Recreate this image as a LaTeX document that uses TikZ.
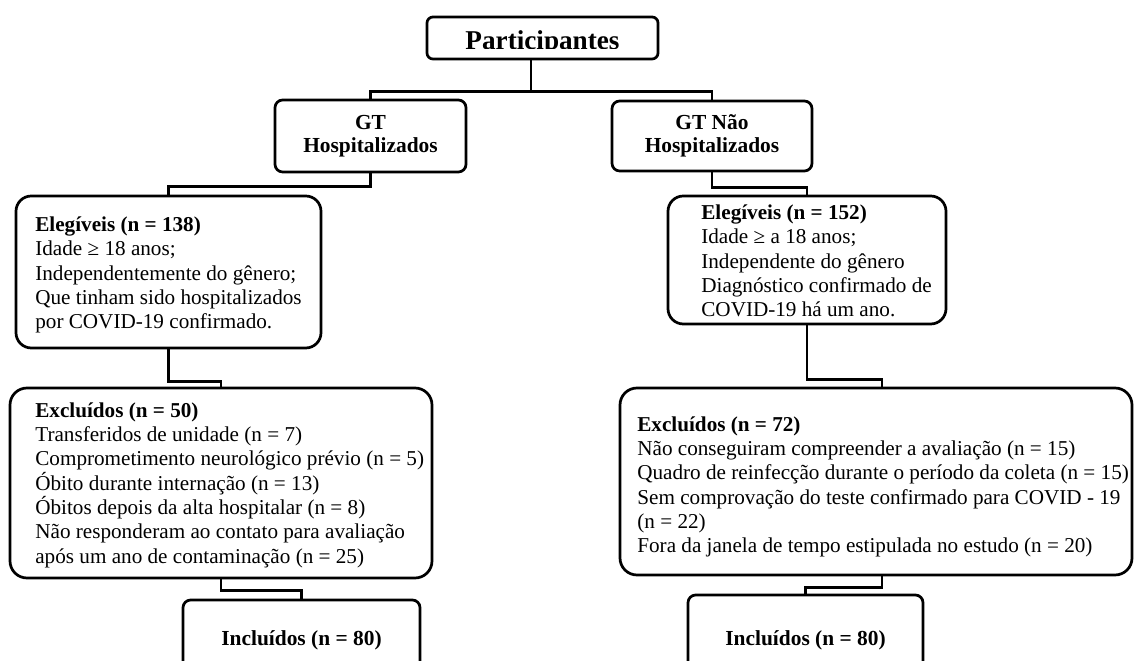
\documentclass[tikz,border=0pt]{standalone}
\usepackage{fontspec}
\setmainfont{Liberation Serif}
\newcommand{\pxu}{0.5882pt}
\begin{document}
\begin{tikzpicture}[x=0.5882pt,y=-0.5882pt,
  box/.style={draw, line width=1.6pt, rounded corners=#1, inner sep=0pt},
  conn/.style={draw, line width=1.6pt},
  body/.style={font=\fontsize{12.45}{14.3}\selectfont, align=left, inner sep=0pt, anchor=west},
  head/.style={font=\bfseries\fontsize{12.6}{13.6}\selectfont, align=center}]
\clip (0,0) rectangle (1134,661);
\useasboundingbox (0,0) rectangle (1134,661);

% boxes
\node[box=3.5pt, minimum width=231*\pxu, minimum height=42*\pxu] (part) at (542.5,38) {};
\begin{scope}
\clip (427,17) rectangle (658,49);
\node[font=\bfseries\fontsize{16}{19}\selectfont, anchor=base, inner sep=0pt] (ptext) at (542.5,49.5) {Participantes};
\end{scope}

\node[box=4.5pt, head, minimum width=191*\pxu, minimum height=72*\pxu] (gth) at (370.5,136) {GT\\Hospitalizados};
\node[box=4.5pt, head, minimum width=200*\pxu, minimum height=70*\pxu] (gtn) at (712,136) {GT Não\\Hospitalizados};

\node[box=9pt, minimum width=305*\pxu, minimum height=152*\pxu] (eleL) at (168.5,272) {};
\node[body] (eleLt) at (35,275) {\textbf{Elegíveis (n = 138)}\\Idade ≥ 18 anos;\\Independentemente do gênero;\\Que tinham sido hospitalizados\\por COVID-19 confirmado.};

\node[box=9pt, minimum width=278*\pxu, minimum height=128*\pxu] (eleR) at (807,260) {};
\node[body] (eleRt) at (701,261) {\textbf{Elegíveis (n = 152)}\\Idade ≥ a 18 anos;\\Independente do gênero\\Diagnóstico confirmado de\\COVID-19 há um ano.};

\node[box=10pt, minimum width=422*\pxu, minimum height=190*\pxu] (excL) at (221,483) {};
\node[body] (excLt) at (35,485) {\textbf{Excluídos (n = 50)}\\Transferidos de unidade (n = 7)\\Comprometimento neurológico prévio (n = 5)\\Óbito durante internação (n = 13)\\Óbitos depois da alta hospitalar (n = 8)\\Não responderam ao contato para avaliação\\após um ano de contaminação (n = 25)};

\node[box=10pt, minimum width=512*\pxu, minimum height=187*\pxu] (excR) at (876,481.5) {};
\node[body] (excRt) at (637,487) {\textbf{Excluídos (n = 72)}\\Não conseguiram compreender a avaliação (n = 15)\\Quadro de reinfecção durante o período da coleta (n = 15)\\Sem comprovação do teste confirmado para COVID - 19\\(n = 22)\\Fora da janela de tempo estipulada no estudo (n = 20)};

\node[box=4.5pt, head, minimum width=237*\pxu, minimum height=80*\pxu] (inclL) at (301.5,640) {Incluídos (n = 80)};
\node[box=4.5pt, head, minimum width=235*\pxu, minimum height=90*\pxu] (inclR) at (805.5,640) {Incluídos (n = 80)};

% connectors
\draw[conn] ([xshift=-11.5*\pxu]part.south) -- ++(0,31) -| (gth.north);
\draw[conn] ([xshift=-11.5*\pxu]part.south) -- ++(0,31) -| (gtn.north);
\draw[conn] (gth.south) -- ++(0,13) -| (eleL.north);
\draw[conn] (gtn.south) -- ++(0,15) -| (eleR.north);
\draw[conn] (eleL.south) -- ++(0,32) -| (excL.north);
\draw[conn] (eleR.south) -- ++(0,54) -| ([xshift=6*\pxu]excR.north);
\draw[conn] (excL.south) -- ++(0,11) -| (inclL.north);
\draw[conn] ([xshift=6*\pxu]excR.south) -- ++(0,11) -| (inclR.north);
\end{tikzpicture}
\end{document}
